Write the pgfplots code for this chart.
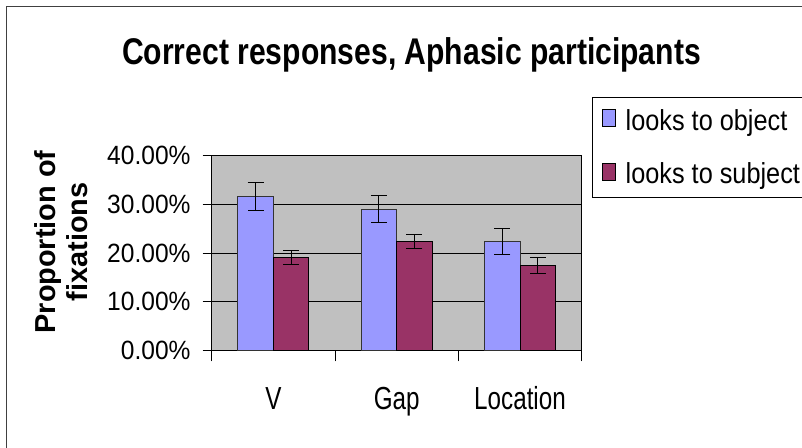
\documentclass[border=0pt]{standalone}
\usepackage{fontspec}
\usepackage{pgfplots}
\usepackage{pgfplotstable}
\pgfplotsset{compat=1.18}
\setmainfont{Liberation Sans}
\newfontfamily\ticksf{Liberation Sans}[FakeStretch=0.93]
\newfontfamily\catf{Liberation Sans}[FakeStretch=0.76]
\newfontfamily\legf{Liberation Sans}[FakeStretch=0.875]
\newfontfamily\titlef{Liberation Sans}[FakeStretch=0.81]
\definecolor{barblue}{HTML}{9999FF}
\definecolor{barred}{HTML}{993366}
\definecolor{plotgray}{HTML}{C0C0C0}

\pgfplotstableread{
x obj objerr subj subjerr
0 31.6 2.8 19.1 1.4
1 29.0 2.75 22.4 1.4
2 22.4 2.7 17.5 1.6
}\data

\begin{document}
\begin{tikzpicture}
\useasboundingbox (0bp,0bp) rectangle (802bp,448bp);
\draw[black!75, line width=1bp] (6.7bp,-2bp) -- (6.7bp,441.3bp) -- (805bp,441.3bp);
\node[anchor=base, font=\titlef\bfseries\fontsize{37.3}{40}\selectfont] at (411.5bp,383bp) {Correct responses, Aphasic participants};
\node[rotate=90, align=center, font=\bfseries\fontsize{29}{32}\selectfont] at (61bp,206bp) {Proportion of\\fixations};
\coordinate (SW) at (211.7bp,97.5bp);
\begin{axis}[
  at={(SW)}, anchor=south west, scale only axis,
  width=370bp, height=194.8bp,
  xmin=-0.5, xmax=2.5, ymin=0, ymax=40,
  axis background/.style={fill=plotgray},
  ybar=0pt, bar width=35.5bp,
  xtick={0,1,2}, xticklabels={V,Gap,Location},
  minor xtick={-0.5,0.5,1.5,2.5},
  ytick={0,10,20,30,40},
  yticklabels={0.00\%,10.00\%,20.00\%,30.00\%,40.00\%},
  tick align=outside, major tick length=9bp, minor tick length=11bp,
  major x tick style={draw=none},
  tick pos=left,
  ymajorgrids, grid style={black, line width=0.8bp},
  axis line style={black, line width=1bp},
  tick style={black, line width=1bp},
  yticklabel style={font=\ticksf\fontsize{26.5}{26.5}\selectfont, inner sep=0pt, anchor=east, xshift=-12bp},
  xticklabel style={font=\catf\fontsize{32}{32}\selectfont, inner sep=0pt, anchor=base, yshift=-50bp},
  legend style={at={(1.029,1.301)}, anchor=north west, draw=black, line width=1bp, fill=white,
    inner xsep=9bp, inner ysep=10bp, font=\legf\fontsize{29}{29}\selectfont,
    row sep=27bp, column sep=8bp},
  legend cell align=left,
  legend image code/.code={\draw[#1, draw=black, line width=0.8bp] (0bp,-6bp) rectangle (13bp,11bp);},
]
\addplot[fill=barblue, draw=black!80, line width=0.8bp,
  error bars/.cd, y dir=both, y explicit,
  error bar style={black, line width=1bp},
  error mark options={rotate=90, mark size=8bp, black, line width=1bp}]
  table[x=x, y=obj, y error=objerr] {\data};
\addlegendentry{looks to object}
\addplot[fill=barred, draw=black, line width=0.8bp,
  error bars/.cd, y dir=both, y explicit,
  error bar style={black, line width=1bp},
  error mark options={rotate=90, mark size=8bp, black, line width=1bp}]
  table[x=x, y=subj, y error=subjerr] {\data};
\addlegendentry{looks to subject}
\end{axis}
\end{tikzpicture}
\end{document}
